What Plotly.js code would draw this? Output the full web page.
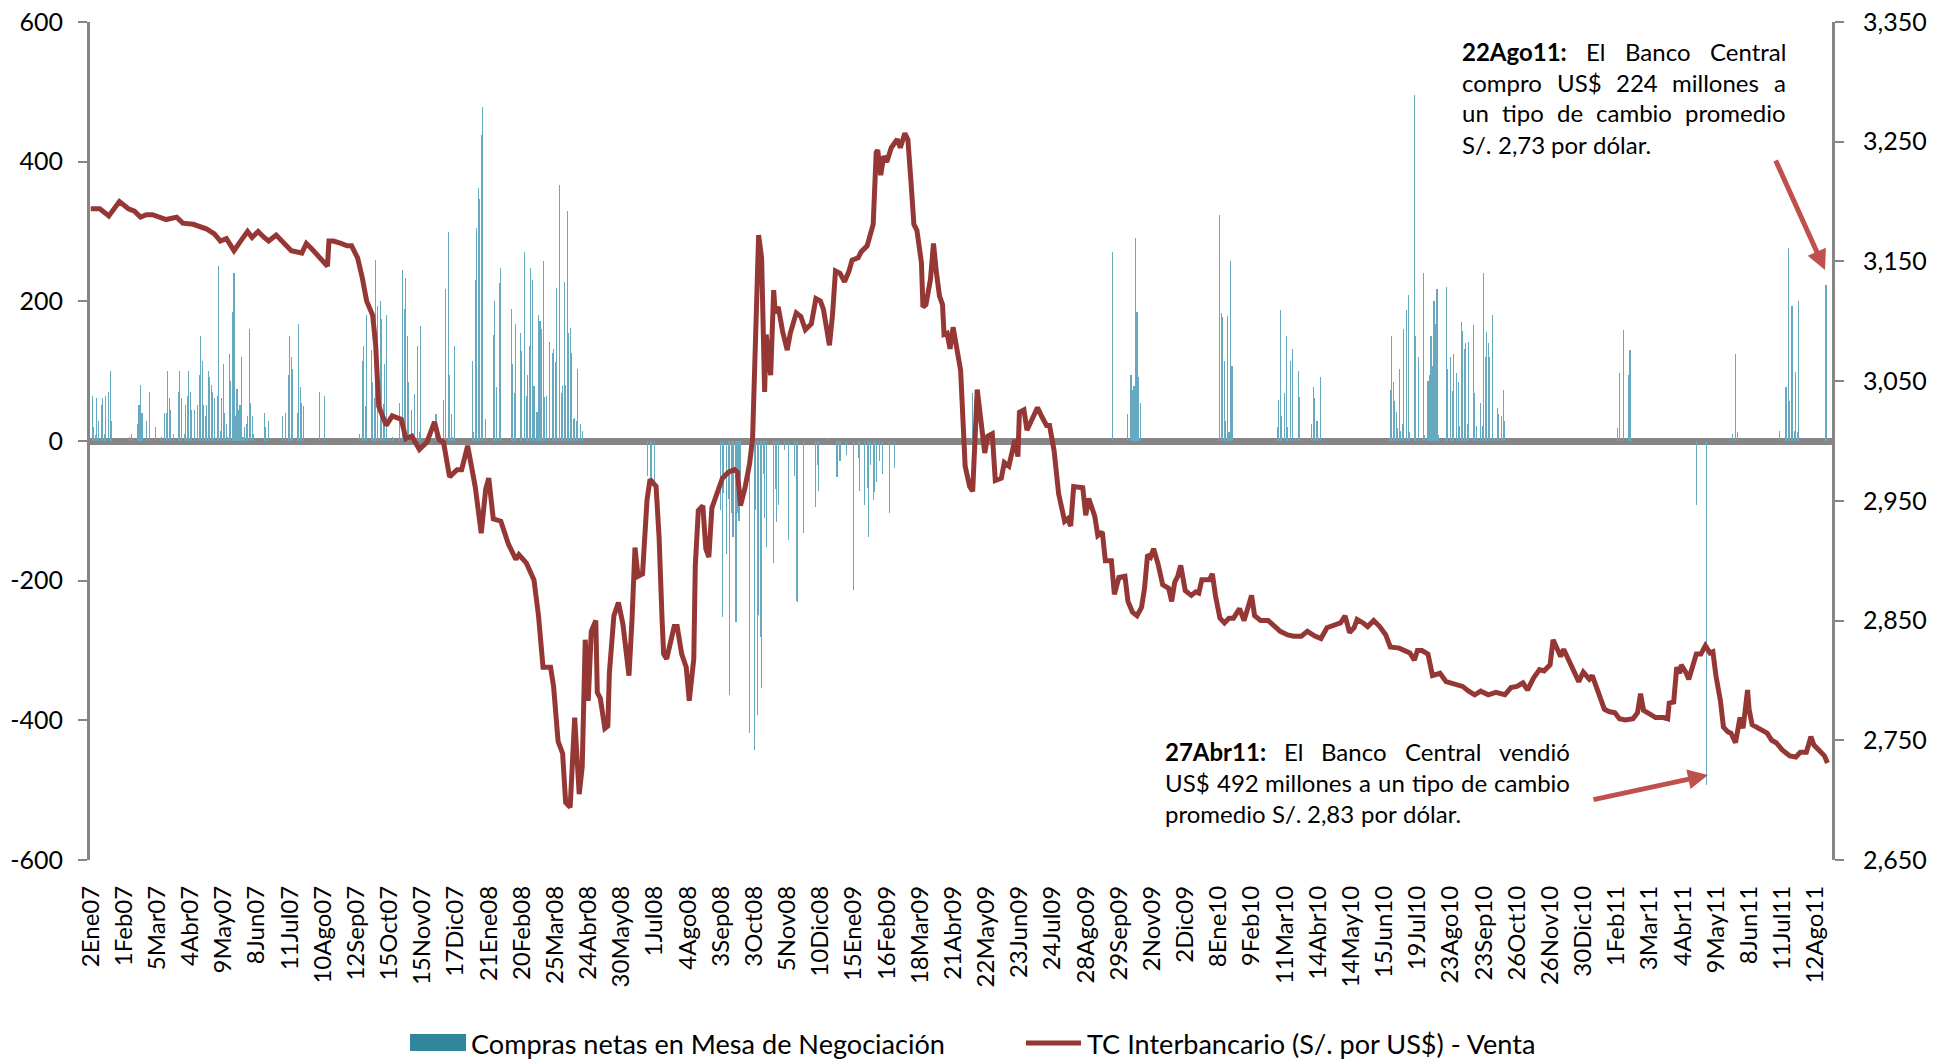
<!DOCTYPE html>
<html><head><meta charset="utf-8">
<script src="https://cdn.plot.ly/plotly-3.0.1.min.js"></script>
<style>html,body{margin:0;padding:0;background:#fff;}#chart{width:1948px;height:1060px;}</style>
</head><body><div id="chart"></div>
<script>
// ---------- DATA ----------
const fechas = ['2Ene07','1Feb07','5Mar07','4Abr07','9May07','8Jun07','11Jul07','10Ago07','12Sep07','15Oct07','15Nov07','17Dic07',
 '21Ene08','20Feb08','25Mar08','24Abr08','30May08','1Jul08','4Ago08','3Sep08','3Oct08','5Nov08','10Dic08',
 '15Ene09','16Feb09','18Mar09','21Abr09','22May09','23Jun09','24Jul09','28Ago09','29Sep09','2Nov09','2Dic09',
 '8Ene10','9Feb10','11Mar10','14Abr10','14May10','15Jun10','19Jul10','23Ago10','23Sep10','26Oct10','26Nov10','30Dic10',
 '1Feb11','3Mar11','4Abr11','9May11','8Jun11','11Jul11','12Ago11'];

// TC interbancario venta (S/. por US$), day index -> value
const tcDia = [0,6,12,19,25,29,33,37,41,50,57,61,68,73,77,82,86,90,95,100,104,107,111,115,118,123,128,133,140,143,147,
152,157,158,161,166,170,173,177,180,183,187,189,191,196,200,206,209,213,218,223,228,231,234,238,243,246,250,252,255,259,262,264,267,272,277,282,
284,289,294,297,300,305,307,310,313,315,318,321,324,326,328,330,332,335,336,338,341,343,344,347,350,353,357,359,361,363,366,369,371,375,377,379,380,382,385,387,389,392,395,397,400,401,403,406,408,410,412,415,419,423,427,
429,431,434,437,439,441,443,445,447,448,451,453,454,456,459,462,464,468,471,474,478,481,484,486,490,492,494,497,500,503,505,509,511,515,519,521,522,524,526,528,531,535,537,540,542,544,546,548,551,552,554,557,559,561,563,565,566,568,570,572,574,
577,580,583,585,588,590,593,595,598,600,604,606,609,613,615,616,619,621,624,628,631,634,636,639,642,646,648,650,652,655,658,660,662,666,668,671,673,677,679,682,686,688,691,694,697,699,701,703,705,708,711,
715,717,719,721,723,724,726,730,733,735,737,742,744,746,749,752,755,758,762,765,767,770,772,776,781,785,789,794,798,803,807,812,816,820,825,829,832,835,838,840,844,847,851,855,
859,862,868,875,878,880,883,887,890,895,899,905,910,914,918,922,927,932,938,942,946,950,953,957,961,964,968,970,973,975,977,981,984,987,990,994,996,
1001,1004,1007,1011,1014,1018,1023,1026,1028,1030,1034,1038,1043,1046,1047,1050,1052,1054,1055,1058,1060,1063,1065,1068,1071,1074,1076,1078,1081,1083,1086,1088,1091,1094,1096,1099,1100,1102,1106,1109,1112,1115,1118,1122,1127,1131,1134,1138,1141,1143,1147,1150,1152];
const tcVenta = [3.194,3.194,3.188,3.200,3.194,3.192,3.187,3.189,3.189,3.185,3.187,3.182,3.181,3.179,3.177,3.173,3.167,3.169,3.159,3.168,3.175,3.170,3.175,3.170,3.167,3.172,3.166,3.159,3.157,3.165,3.160,
3.153,3.146,3.167,3.167,3.165,3.163,3.163,3.153,3.137,3.117,3.105,3.080,3.029,3.013,3.021,3.018,3.002,3.004,2.993,2.999,3.016,3.001,2.999,2.970,2.976,2.976,2.996,2.983,2.962,2.923,2.960,2.969,2.935,2.933,2.914,2.901,
2.905,2.898,2.884,2.854,2.811,2.811,2.795,2.749,2.739,2.698,2.694,2.769,2.705,2.728,2.834,2.783,2.841,2.850,2.790,2.785,2.760,2.762,2.806,2.854,2.865,2.847,2.804,2.850,2.911,2.887,2.889,2.951,2.968,2.962,2.919,2.850,2.822,2.818,2.836,2.845,2.845,2.822,2.811,2.783,2.818,2.896,2.942,2.946,2.910,2.903,2.944,2.956,2.969,2.974,2.976,
2.974,2.946,2.961,2.981,3.002,3.080,3.172,3.153,3.041,3.089,3.055,3.126,3.107,3.112,3.091,3.076,3.090,3.107,3.104,3.093,3.098,3.119,3.117,3.110,3.080,3.105,3.142,3.140,3.133,3.142,3.151,3.153,3.158,3.163,3.181,3.241,3.243,3.222,3.238,3.233,3.245,3.252,3.245,3.257,3.252,3.218,3.181,3.176,3.149,3.112,3.114,3.135,3.165,3.140,3.121,3.114,3.089,3.090,3.077,3.095,3.080,
3.059,2.979,2.962,2.958,3.043,3.022,2.990,3.004,3.006,2.967,2.969,2.982,2.979,3.001,2.987,3.024,3.026,3.009,3.018,3.028,3.020,3.013,3.013,2.992,2.956,2.933,2.935,2.929,2.962,2.961,2.961,2.938,2.952,2.937,2.921,2.924,2.900,2.900,2.872,2.886,2.887,2.866,2.857,2.854,2.861,2.877,2.905,2.903,2.910,2.897,2.880,
2.877,2.866,2.882,2.887,2.896,2.889,2.875,2.871,2.874,2.873,2.884,2.884,2.889,2.871,2.852,2.848,2.852,2.852,2.860,2.850,2.859,2.871,2.854,2.850,2.850,2.845,2.841,2.838,2.837,2.837,2.841,2.837,2.835,2.844,2.846,2.848,2.854,2.840,2.844,2.851,2.848,2.845,2.850,2.845,
2.838,2.828,2.827,2.823,2.817,2.825,2.825,2.822,2.804,2.806,2.799,2.797,2.795,2.791,2.788,2.791,2.788,2.790,2.788,2.794,2.795,2.798,2.792,2.802,2.809,2.808,2.813,2.834,2.825,2.820,2.826,2.815,2.806,2.799,2.807,2.801,2.804,
2.788,2.776,2.774,2.773,2.768,2.767,2.768,2.773,2.789,2.775,2.772,2.769,2.769,2.768,2.781,2.782,2.811,2.806,2.813,2.807,2.801,2.813,2.822,2.822,2.829,2.823,2.824,2.804,2.783,2.761,2.757,2.756,2.748,2.769,2.760,2.792,2.776,2.763,2.760,2.758,2.756,2.750,2.748,2.742,2.737,2.736,2.740,2.740,2.753,2.746,2.740,2.737,2.731];

// Compras netas en Mesa de Negociación (millones US$), day index -> amount
const compraDia = [1,2,3,4,5,7,8,9,10,12,13,14,26,27,31,32,33,34,37,39,43,47,49,50,51,52,53,55,58,59,60,62,63,64,65,66,67,69,71,72,73,74,75,76,77,78,79,80,81,82,84,85,86,87,88,89,90,91,92,93,94,95,96,97,98,99,100,101,102,103,104,105,106,107,108,115,116,118,127,129,131,132,133,134,137,138,139,140,141,152,155,
178,180,181,182,183,186,187,188,189,190,192,193,194,195,196,198,200,205,207,208,209,210,211,213,215,217,218,219,229,234,235,237,238,239,240,241,253,254,255,256,257,258,259,260,262,267,268,269,271,272,279,280,281,282,
285,286,288,289,290,291,292,293,294,296,297,298,299,300,301,302,304,306,307,308,309,311,312,313,314,315,316,317,318,319,320,321,322,323,325,326,
369,371,372,374,418,419,420,422,423,424,425,426,428,429,430,431,437,440,441,442,443,444,445,446,447,448,453,454,455,456,460,463,467,468,469,473,481,482,483,489,495,497,501,506,509,510,513,515,516,517,519,520,521,523,525,530,533,
584,585,678,688,690,691,692,693,694,695,696,749,750,751,752,753,754,755,756,757,787,788,789,790,792,793,794,796,797,799,801,802,810,811,812,813,814,816,
862,863,864,865,866,867,868,869,870,871,873,874,875,878,879,881,884,885,887,888,889,890,891,892,893,894,899,900,902,903,904,906,907,908,909,910,911,912,913,914,917,918,919,922,923,924,925,926,927,928,930,931,933,934,936,937,938,
1013,1014,1017,1020,1021,1065,1072,1089,1091,1092,1120,1124,1125,1126,1127,1128,1129,1130,1131,1132,1133,1151];
const compraMonto = [65,20,8,61,29,51,61,10,65,70,100,29,6,10,24,51,80,40,29,70,20,6,40,40,100,61,45,10,70,100,61,10,51,65,100,70,45,45,51,95,150,114,51,36,51,100,91,80,70,61,65,250,15,61,110,40,24,6,125,86,185,240,36,75,45,51,120,6,20,24,36,160,54,36,10,40,20,29,36,40,95,151,120,103,40,167,77,54,50,70,65,
10,114,136,50,180,130,85,61,259,193,200,175,53,110,181,4,6,54,245,189,233,151,85,45,67,136,13,165,39,59,218,299,95,39,6,136,114,13,231,305,363,347,438,479,32,152,201,77,226,248,189,110,69,168,
155,129,271,65,95,136,248,230,79,42,180,172,160,258,63,65,142,126,132,113,219,367,69,79,228,80,330,155,162,126,32,33,29,103,24,15,
-50,-60,-53,-75,-99,-252,-75,-162,-83,-363,-103,-138,-259,-103,-114,-51,-418,-442,-99,-392,-249,-280,-353,-47,-110,-152,-174,-69,-116,-92,-13,-142,-50,-229,-231,-132,-95,-35,-71,4,-51,-28,-20,-213,-24,-71,-91,-67,-138,-35,-84,-73,-59,-28,-47,-103,-39,
4,69,270,39,95,73,79,290,185,92,55,323,184,178,114,28,179,13,258,108,20,59,187,36,69,150,20,114,132,4,100,63,24,78,62,29,29,91,
73,151,84,57,42,18,103,14,24,160,187,209,13,495,151,120,241,8,86,95,150,107,201,167,217,8,220,103,121,71,124,97,84,21,171,158,132,140,24,142,166,69,21,55,21,241,121,156,140,121,181,4,47,38,36,73,29,
18,97,159,94,130,-91,-492,10,125,13,14,78,78,276,57,193,193,14,99,13,201,224];

const izqValores = [-600,-400,-200,0,200,400,600];
const izqTexto = ['-600','-400','-200','0','200','400','600'];
const derValores = [2.65,2.75,2.85,2.95,3.05,3.15,3.25,3.35];
const derTexto = ['2,650','2,750','2,850','2,950','3,050','3,150','3,250','3,350'];

const serieBarras = 'Compras netas en Mesa de Negociación';
const serieLinea = 'TC Interbancario (S/. por US$) - Venta';

// ---------- LAYOUT HELPERS ----------
const W = 1948, H = 1060, M = {l:90, r:116, t:22, b:200};
const PW = W - M.l - M.r, PH = H - M.t - M.b;
const px = x => (x - M.l) / PW;
const py = y => (H - M.b - y) / PH;
const FONT = 'Lato';
const ctx = document.createElement('canvas').getContext('2d');
function ancho(t, size, bold){ ctx.font = (bold ? '700 ' : '400 ') + size + 'px ' + FONT; return ctx.measureText(t).width; }

const COL_BAR = '#67aabf', COL_LEG_BAR = '#31859C', COL_LINE = '#953735', COL_AX = '#868686', COL_ARROW = '#C0504D';

const traces = [
  {type:'bar', x: compraDia, y: compraMonto, name: serieBarras, width: 0.7,
   marker:{color: COL_BAR, line:{width:0}}, showlegend:false, hoverinfo:'x+y'},
  {type:'scatter', mode:'lines', x: tcDia, y: tcVenta, name: serieLinea, yaxis:'y2',
   line:{color: COL_LINE, width:5}, showlegend:false}
];

const annotations = [];
const shapes = [];

// justified text blocks
const bloques = [
  {x0:1462, x1:1786, ys:[51,82,113,144], lineas:[
    ['*22Ago11:','El','Banco','Central'],
    ['compro','US$','224','millones','a'],
    ['un','tipo','de','cambio','promedio'],
    ['S/.','2,73','por','dólar.']]},
  {x0:1165, x1:1570, ys:[751,782,813], lineas:[
    ['*27Abr11:','El','Banco','Central','vendió'],
    ['US$','492','millones','a','un','tipo','de','cambio'],
    ['promedio','S/.','2,83','por','dólar.']]}
];
const FS_NOTA = 24;
bloques.forEach(b => {
  b.lineas.forEach((ws, li) => {
    const items = ws.map(w => ({t: w.replace('*',''), bold: w[0]==='*'}));
    const widths = items.map(it => ancho(it.t, FS_NOTA, it.bold));
    const total = widths.reduce((a,c)=>a+c,0);
    const last = li === b.lineas.length - 1;
    const gap = last ? ancho(' ', FS_NOTA, false) : (b.x1 - b.x0 - total) / (items.length - 1);
    let x = b.x0;
    items.forEach((it, k) => {
      annotations.push({xref:'paper', yref:'paper', x: px(x), y: py(b.ys[li]), xanchor:'left', yanchor:'middle',
        text: it.bold ? '<b>' + it.t + '</b>' : it.t, showarrow:false, borderpad:0, borderwidth:0,
        font:{family:FONT, size:FS_NOTA, color:'#000'}});
      x += widths[k] + gap;
    });
  });
});

// arrows
annotations.push({xref:'paper', yref:'paper', x: px(1825), y: py(270), ax:-50, ay:-111, text:'', showarrow:true,
  arrowhead:2, arrowsize:0.8, arrowwidth:5, arrowcolor: COL_ARROW, standoff:0});
annotations.push({xref:'paper', yref:'paper', x: px(1708), y: py(775), ax:-116, ay:25, text:'', showarrow:true,
  arrowhead:2, arrowsize:0.8, arrowwidth:5, arrowcolor: COL_ARROW, standoff:0});

// custom legend
const fsLeg = Math.min(475 / ancho(serieBarras, 1, false), 450 / ancho(serieLinea, 1, false));
shapes.push({type:'rect', xref:'paper', yref:'paper', x0: px(410), x1: px(466), y0: py(1051), y1: py(1034),
  fillcolor: COL_LEG_BAR, line:{width:0}});
shapes.push({type:'line', xref:'paper', yref:'paper', x0: px(1026), x1: px(1081), y0: py(1043), y1: py(1043),
  line:{color: COL_LINE, width:5}});
annotations.push({xref:'paper', yref:'paper', x: px(471), y: py(1043), xanchor:'left', yanchor:'middle', text: serieBarras,
  showarrow:false, borderpad:0, borderwidth:0, font:{family:FONT, size:fsLeg, color:'#000'}});
annotations.push({xref:'paper', yref:'paper', x: px(1087), y: py(1043), xanchor:'left', yanchor:'middle', text: serieLinea,
  showarrow:false, borderpad:0, borderwidth:0, font:{family:FONT, size:fsLeg, color:'#000'}});

const layout = {
  width: W, height: H, margin: M, paper_bgcolor:'#fff', plot_bgcolor:'#fff',
  font:{family: FONT, color:'#000'},
  showlegend:false, bargap:0,
  xaxis:{range:[-0.5, 1155], tickmode:'array', tickvals: fechas.map((_,k)=>k*22), ticktext: fechas,
    tickangle:-90, ticks:'', showline:false, showgrid:false, zeroline:false, ticklabelstandoff:20,
    tickfont:{family:FONT, size:24, color:'#000'}},
  yaxis:{range:[-600,600], tickmode:'array', tickvals: izqValores, ticktext: izqTexto, ticks:'outside', ticklen:9, tickwidth:2,
    tickcolor: COL_AX, showline:true, linecolor: COL_AX, linewidth:3, showgrid:false,
    zeroline:true, zerolinecolor: COL_AX, zerolinewidth:7, ticklabelstandoff:10,
    tickfont:{family:FONT, size:25, color:'#000'}},
  yaxis2:{overlaying:'y', side:'right', range:[2.65,3.35], tickmode:'array', tickvals: derValores, ticktext: derTexto,
    ticks:'outside', ticklen:9, tickwidth:2, tickcolor: COL_AX, showline:true, linecolor: COL_AX, linewidth:3,
    showgrid:false, zeroline:false, ticklabelstandoff:14, tickfont:{family:FONT, size:25, color:'#000'}},
  annotations, shapes
};

Plotly.newPlot('chart', traces, layout, {displayModeBar:false, staticPlot:true});
</script>
</body></html>
